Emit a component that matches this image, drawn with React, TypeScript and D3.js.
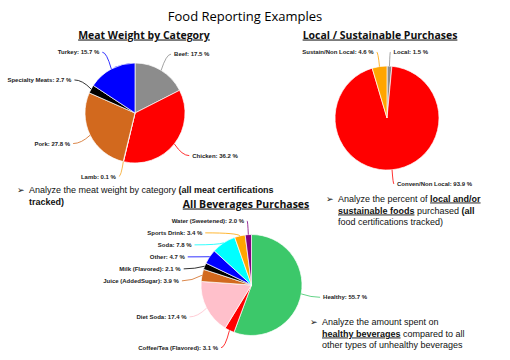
import React from 'react';
import * as d3 from 'd3';

// meat weight by category (percent)
const meatNames = ['Beef', 'Chicken', 'Lamb', 'Pork', 'Specialty Meats', 'Turkey'];
const meatValues = [17.5, 36.2, 0.1, 27.8, 2.7, 15.7];
const meatColors = ['#8c8c8c', '#ff0000', '#f5a623', '#d2691e', '#000000', '#0000ff'];

// local / sustainable purchases (percent)
const localNames = ['Local', 'Conven/Non Local', 'Sustain/Non Local'];
const localValues = [1.5, 93.9, 4.6];
const localColors = ['#8c8c8c', '#ff0000', '#ffa500'];

// all beverages purchases (percent)
const bevNames = [
  'Healthy',
  'Coffee/Tea (Flavored)',
  'Diet Soda',
  'Juice (AddedSugar)',
  'Milk (Flavored)',
  'Other',
  'Soda',
  'Sports Drink',
  'Water (Sweetened)',
];
const bevValues = [55.7, 3.1, 17.4, 3.9, 2.1, 4.7, 7.8, 3.4, 2.0];
const bevColors = ['#3cc86a', '#ff0000', '#ffc0cb', '#d2691e', '#000000', '#0000ff', '#00ffff', '#ffa500', '#800080'];

const labelFont = '"Liberation Sans", Arial, sans-serif';
const textFont = '"Open Sans", "Liberation Sans", sans-serif';
const bodyFont = '"Liberation Sans", Arial, sans-serif';

type PieProps = {
  cx: number;
  cy: number;
  r: number;
  names: string[];
  values: number[];
  colors: string[];
};

const Pie = ({ cx, cy, r, names, values, colors }: PieProps) => {
  const arcs = d3
    .pie<number>()
    .sort(null)
    .value((d) => d)(values);
  const arc = d3.arc<d3.PieArcDatum<number>>().innerRadius(0).outerRadius(r);

  const R = r * 1.38;
  const lim = r * 1.27;
  const labels = arcs.map((a, i) => {
    const m = (a.startAngle + a.endAngle) / 2;
    const right = Math.sin(m) >= 0;
    let y = cy - Math.cos(m) * R;
    y = Math.max(cy - lim, Math.min(cy + lim, y));
    return { i, m, right, x: cx + Math.sin(m) * R, y };
  });
  // push overlapping labels apart, top to bottom, each side on its own
  [true, false].forEach((side) => {
    const group = labels
      .filter((l) => l.right === side)
      .sort((a, b) => (side ? a.m - b.m : b.m - a.m));
    for (let k = 1; k < group.length; k++) {
      const g = group[k];
      if (g.y < group[k - 1].y + 12) {
        g.y = group[k - 1].y + 12;
        const dy = Math.min(Math.abs(g.y - cy), R);
        g.x = cx + (side ? 1 : -1) * Math.sqrt(R * R - dy * dy);
      }
    }
  });

  return (
    <g>
      <g transform={`translate(${cx},${cy})`}>
        {arcs.map((a, i) => (
          <path key={i} d={arc(a) || ''} fill={colors[i]} stroke="#fff" strokeWidth={0.7} />
        ))}
      </g>
      {labels.map((l) => {
        const sx = cx + Math.sin(l.m) * r;
        const sy = cy - Math.cos(l.m) * r;
        const qx = cx + Math.sin(l.m) * r * 1.2;
        const path = `M${sx},${sy}Q${qx},${l.y} ${l.x},${l.y}`;
        return (
          <g key={l.i}>
            <path d={path} fill="none" stroke={colors[l.i]} strokeWidth={0.8} />
            <text
              x={l.x + (l.right ? 3 : -3)}
              y={l.y}
              dy="0.35em"
              textAnchor={l.right ? 'start' : 'end'}
              fontFamily={labelFont}
              fontWeight="bold"
              fontSize={6}
              fill="#222"
            >
              {`${names[l.i]}: ${values[l.i].toFixed(1)} %`}
            </text>
          </g>
        );
      })}
    </g>
  );
};

const B = ({ children, u }: { children: React.ReactNode; u?: boolean }) => (
  <tspan fontWeight="bold" textDecoration={u ? 'underline' : undefined}>
    {children}
  </tspan>
);

const Line = ({ x, y, children }: { x: number; y: number; children: React.ReactNode }) => (
  <text x={x} y={y} fontFamily={bodyFont} fontSize={9} fill="#111">
    {children}
  </text>
);

const Arrow = ({ x, y }: { x: number; y: number }) => (
  <text x={x} y={y} fontFamily='"DejaVu Sans", sans-serif' fontSize={9} fill="#111">
    ➢
  </text>
);

const Heading = ({ x, y, children }: { x: number; y: number; children: string }) => (
  <text
    x={x}
    y={y}
    textAnchor="middle"
    fontFamily={textFont}
    fontWeight="bold"
    fontSize={10.5}
    textDecoration="underline"
    fill="#111"
  >
    {children}
  </text>
);

export default function App() {
  return (
    <svg width={510} height={360} style={{ position: 'absolute', left: 0, top: 0, background: '#fff' }}>
      <text x={245} y={21} textAnchor="middle" fontFamily={textFont} fontSize={13} fill="#000">
        Food Reporting Examples
      </text>

      <Heading x={144} y={38.5}>Meat Weight by Category</Heading>
      <Heading x={380} y={38.5}>Local / Sustainable Purchases</Heading>
      <Heading x={246} y={207.5}>All Beverages Purchases</Heading>

      <Pie cx={135} cy={113} r={50} names={meatNames} values={meatValues} colors={meatColors} />
      <Pie cx={387} cy={118} r={52} names={localNames} values={localValues} colors={localColors} />
      <Pie cx={251.5} cy={285} r={50.5} names={bevNames} values={bevValues} colors={bevColors} />

      <Arrow x={17} y={192.5} />
      <Line x={29} y={192.5}>
        Analyze the meat weight by category <B>(all meat certifications</B>
      </Line>
      <Line x={29} y={204.5}>
        <B>tracked)</B>
      </Line>

      <Arrow x={326} y={201.5} />
      <Line x={338} y={201.5}>
        Analyze the percent of <B u>local and/or</B>
      </Line>
      <Line x={338} y={213.5}>
        <B u>sustainable foods</B> purchased <B>(all</B>
      </Line>
      <Line x={338} y={225}>
        food certifications tracked)
      </Line>

      <Arrow x={310} y={325} />
      <Line x={322} y={325}>
        Analyze the amount spent on
      </Line>
      <Line x={322} y={336.5}>
        <B u>healthy beverages</B> compared to all
      </Line>
      <Line x={322} y={348}>
        other types of unhealthy beverages
      </Line>
    </svg>
  );
}
